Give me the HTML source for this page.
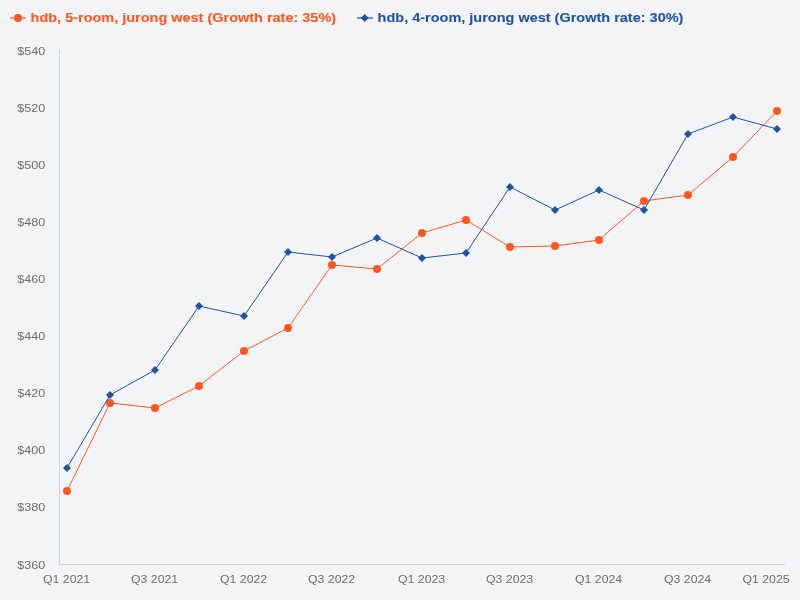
<!DOCTYPE html>
<html><head><meta charset="utf-8"><style>
html,body{margin:0;padding:0;background:#f3f4f6;width:800px;height:600px;overflow:hidden}
svg{display:block;will-change:transform}
.ax{font-family:"Liberation Sans",sans-serif;font-size:11px;fill:#6e6e6e}
.lg{font-family:"Liberation Sans",sans-serif;font-size:13px;font-weight:bold;stroke-width:0.1px}
</style></head><body>
<svg width="800" height="600" viewBox="0 0 800 600">
<rect x="59" y="50" width="1" height="515" fill="#c9d5ea"/>
<rect x="59" y="564" width="726" height="1" fill="#c9d5ea"/>
<text x="45.2" y="55.0" text-anchor="end" class="ax" textLength="28" lengthAdjust="spacingAndGlyphs">$540</text>
<text x="45.2" y="112.0" text-anchor="end" class="ax" textLength="28" lengthAdjust="spacingAndGlyphs">$520</text>
<text x="45.2" y="169.0" text-anchor="end" class="ax" textLength="28" lengthAdjust="spacingAndGlyphs">$500</text>
<text x="45.2" y="226.0" text-anchor="end" class="ax" textLength="28" lengthAdjust="spacingAndGlyphs">$480</text>
<text x="45.2" y="283.0" text-anchor="end" class="ax" textLength="28" lengthAdjust="spacingAndGlyphs">$460</text>
<text x="45.2" y="340.0" text-anchor="end" class="ax" textLength="28" lengthAdjust="spacingAndGlyphs">$440</text>
<text x="45.2" y="397.0" text-anchor="end" class="ax" textLength="28" lengthAdjust="spacingAndGlyphs">$420</text>
<text x="45.2" y="454.0" text-anchor="end" class="ax" textLength="28" lengthAdjust="spacingAndGlyphs">$400</text>
<text x="45.2" y="511.0" text-anchor="end" class="ax" textLength="28" lengthAdjust="spacingAndGlyphs">$380</text>
<text x="45.2" y="569.0" text-anchor="end" class="ax" textLength="28" lengthAdjust="spacingAndGlyphs">$360</text>
<text x="66.60" y="583" text-anchor="middle" class="ax" textLength="47.16" lengthAdjust="spacingAndGlyphs">Q1 2021</text>
<text x="154.60" y="583" text-anchor="middle" class="ax" textLength="47.16" lengthAdjust="spacingAndGlyphs">Q3 2021</text>
<text x="243.60" y="583" text-anchor="middle" class="ax" textLength="47.16" lengthAdjust="spacingAndGlyphs">Q1 2022</text>
<text x="331.60" y="583" text-anchor="middle" class="ax" textLength="47.16" lengthAdjust="spacingAndGlyphs">Q3 2022</text>
<text x="421.60" y="583" text-anchor="middle" class="ax" textLength="47.16" lengthAdjust="spacingAndGlyphs">Q1 2023</text>
<text x="509.60" y="583" text-anchor="middle" class="ax" textLength="47.16" lengthAdjust="spacingAndGlyphs">Q3 2023</text>
<text x="598.60" y="583" text-anchor="middle" class="ax" textLength="47.16" lengthAdjust="spacingAndGlyphs">Q1 2024</text>
<text x="687.60" y="583" text-anchor="middle" class="ax" textLength="47.16" lengthAdjust="spacingAndGlyphs">Q3 2024</text>
<text x="789.6" y="583" text-anchor="end" class="ax" textLength="47.16" lengthAdjust="spacingAndGlyphs">Q1 2025</text>
<polyline points="67,491 110,403 155,408 199,386 244,351 288,328 332,265 377,269 422,233 466,220 510,247 555,246 599,240 644,201 688,195 733,157 777,111" fill="none" stroke="#ff5722" stroke-width="1" stroke-linejoin="round"/>
<circle cx="67" cy="491" r="4" fill="#ff5722"/>
<circle cx="110" cy="403" r="4" fill="#ff5722"/>
<circle cx="155" cy="408" r="4" fill="#ff5722"/>
<circle cx="199" cy="386" r="4" fill="#ff5722"/>
<circle cx="244" cy="351" r="4" fill="#ff5722"/>
<circle cx="288" cy="328" r="4" fill="#ff5722"/>
<circle cx="332" cy="265" r="4" fill="#ff5722"/>
<circle cx="377" cy="269" r="4" fill="#ff5722"/>
<circle cx="422" cy="233" r="4" fill="#ff5722"/>
<circle cx="466" cy="220" r="4" fill="#ff5722"/>
<circle cx="510" cy="247" r="4" fill="#ff5722"/>
<circle cx="555" cy="246" r="4" fill="#ff5722"/>
<circle cx="599" cy="240" r="4" fill="#ff5722"/>
<circle cx="644" cy="201" r="4" fill="#ff5722"/>
<circle cx="688" cy="195" r="4" fill="#ff5722"/>
<circle cx="733" cy="157" r="4" fill="#ff5722"/>
<circle cx="777" cy="111" r="4" fill="#ff5722"/>
<polyline points="67,468 110,395 155,370 199,306 244,316 288,252 332,257 377,238 422,258 466,253 510,187 555,210 599,190 644,210 688,134 733,117 777,129" fill="none" stroke="#2153a1" stroke-width="1" stroke-linejoin="round"/>
<path d="M67 464L71 468L67 472L63 468Z" fill="#2153a1"/>
<path d="M110 391L114 395L110 399L106 395Z" fill="#2153a1"/>
<path d="M155 366L159 370L155 374L151 370Z" fill="#2153a1"/>
<path d="M199 302L203 306L199 310L195 306Z" fill="#2153a1"/>
<path d="M244 312L248 316L244 320L240 316Z" fill="#2153a1"/>
<path d="M288 248L292 252L288 256L284 252Z" fill="#2153a1"/>
<path d="M332 253L336 257L332 261L328 257Z" fill="#2153a1"/>
<path d="M377 234L381 238L377 242L373 238Z" fill="#2153a1"/>
<path d="M422 254L426 258L422 262L418 258Z" fill="#2153a1"/>
<path d="M466 249L470 253L466 257L462 253Z" fill="#2153a1"/>
<path d="M510 183L514 187L510 191L506 187Z" fill="#2153a1"/>
<path d="M555 206L559 210L555 214L551 210Z" fill="#2153a1"/>
<path d="M599 186L603 190L599 194L595 190Z" fill="#2153a1"/>
<path d="M644 206L648 210L644 214L640 210Z" fill="#2153a1"/>
<path d="M688 130L692 134L688 138L684 134Z" fill="#2153a1"/>
<path d="M733 113L737 117L733 121L729 117Z" fill="#2153a1"/>
<path d="M777 125L781 129L777 133L773 129Z" fill="#2153a1"/>
<rect x="10" y="17" width="16" height="2" fill="#ff5722" opacity="0.6"/>
<circle cx="18" cy="18" r="4" fill="#ff5722"/>
<text x="30.599999999999998" y="22" class="lg" fill="#ff5722" stroke="#ff5722" textLength="305.5" lengthAdjust="spacingAndGlyphs">hdb, 5-room, jurong west (Growth rate: 35%)</text>
<rect x="357" y="17" width="16" height="2" fill="#2153a1" opacity="0.6"/>
<path d="M364.75 14L368.6 18L364.75 22L360.9 18Z" fill="#2153a1"/>
<text x="377.59999999999997" y="22" class="lg" fill="#2153a1" stroke="#2153a1" textLength="305.8" lengthAdjust="spacingAndGlyphs">hdb, 4-room, jurong west (Growth rate: 30%)</text>
</svg>
</body></html>
